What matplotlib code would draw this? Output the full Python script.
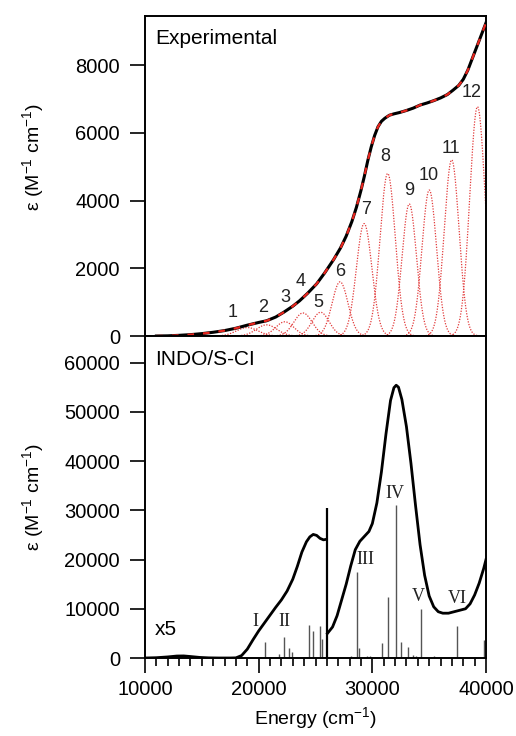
import matplotlib.pyplot as plt
import numpy as np

plt.rcParams['font.family'] = ['Liberation Sans', 'DejaVu Sans']
plt.rcParams['mathtext.fontset'] = 'custom'
plt.rcParams['mathtext.rm'] = 'Liberation Sans'
plt.rcParams['mathtext.it'] = 'Liberation Sans'

# experimental spectrum (top)
expE = [11000, 12000, 13000, 14000, 15000, 16000, 17000, 18000, 19000, 20000, 20700,
        21500, 22200, 23000, 23600, 24300, 25100, 25800, 26600, 27200, 27700, 28200,
        28600, 29000, 29300, 29600, 29900, 30200, 30500, 30800, 31100, 31500, 31900,
        32400, 33000, 33600, 34200, 34800, 35400, 36000, 36600, 37100, 37600, 38000,
        38400, 38800, 39200, 39600, 40000]
expEps = [0, 5, 20, 40, 70, 110, 160, 230, 320, 400, 450,
          560, 700, 880, 1040, 1260, 1540, 1860, 2260, 2600, 2950, 3380,
          3800, 4300, 4720, 5180, 5580, 5920, 6180, 6340, 6430, 6520, 6560,
          6600, 6660, 6730, 6820, 6880, 6950, 7030, 7130, 7260, 7400, 7580,
          7850, 8200, 8550, 8900, 9250]

# gaussian components: centre, height, sigma
bandE = [19000, 20700, 22300, 23900, 25450, 27160, 29280, 31350, 33250, 35010, 36980, 39250]
bandH = [250, 330, 420, 680, 700, 1600, 3320, 4800, 3900, 4310, 5200, 6770]
bandW = [950, 900, 800, 800, 750, 700, 680, 670, 630, 640, 650, 680]
bandLbl = ['1', '2', '3', '4', '5', '6', '7', '8', '9', '10', '11', '12']
lblE = [17750, 20350, 22350, 23650, 25250, 27150, 29450, 31150, 33250, 35000, 36950, 38700]
lblEps = [700, 850, 1150, 1600, 1000, 1900, 3750, 5300, 4300, 4750, 5550, 7200]

# INDO/S-CI calculated spectrum (bottom)
calcE1 = [10000, 11000, 12000, 12800, 13400, 14000, 14800, 15600, 16500, 17500, 18000,
          18500, 19000, 19500, 20000, 20500, 21000, 21500, 22000, 22500, 23000, 23400,
          23800, 24200, 24500, 24800, 25100, 25400, 25700, 25950]
calcEps1 = [0, 60, 220, 400, 420, 300, 120, 30, 0, 0, 30,
            500, 1800, 3700, 5500, 7100, 8700, 10300, 11800, 13600, 16000, 18600,
            21500, 23600, 24600, 25100, 24900, 24300, 24000, 24100]
calcE2 = [26050, 26500, 26900, 27300, 27700, 28100, 28500, 28900, 29300, 29700, 30000,
          30400, 30800, 31200, 31600, 31900, 32100, 32300, 32600, 33000, 33400, 33800,
          34200, 34600, 35000, 35400, 35800, 36200, 36700, 37200, 37700, 38200, 38600,
          39000, 39400, 39800, 40000]
calcEps2 = [5000, 6300, 8600, 11800, 15000, 18700, 22000, 23700, 24700, 25700, 27300,
            31500, 37800, 45500, 52300, 54900, 55400, 55000, 52500, 47000, 39500, 31000,
            23000, 16800, 12600, 10400, 9400, 9100, 9100, 9400, 9700, 10000, 11000,
            12800, 15200, 18200, 20000]

# oscillator sticks
stickE = [20580, 21760, 22230, 22700, 22930, 24400, 24750, 25400, 25540, 28100, 28650,
          28830, 29500, 29800, 30850, 31380, 32080, 32520, 33110, 33600, 33800, 34280,
          35400, 37420, 39850]
stickEps = [3150, 800, 4250, 2100, 1300, 6700, 5400, 6400, 3800, 500, 17500,
            2100, 400, 500, 3000, 12400, 31000, 3200, 2300, 700, 400, 9900,
            400, 6600, 3700]
tallE = 26000
tallEps = 30500

romanLbl = ['I', 'II', 'III', 'IV', 'V', 'VI']
romanE = [19700, 22300, 29400, 32000, 34000, 37500]
romanEps = [7500, 7500, 20000, 33500, 12500, 12000]

fig = plt.figure(figsize=(5.16, 7.36), dpi=100)
ax1 = fig.add_axes([145/516, 1 - 336/736, 341/516, 320/736])
ax2 = fig.add_axes([145/516, 1 - 658/736, 341/516, 322/736])

# top panel
grid = np.linspace(10000, 40000, 1200)
for c, h, w in zip(bandE, bandH, bandW):
    ax1.plot(grid, h * np.exp(-(grid - c)**2 / (2 * w**2)), color='#e23a3a',
             lw=0.9, ls=(0, (1, 1.2)), zorder=2)
ax1.plot(expE, expEps, color='black', lw=2.2, zorder=3)
ax1.plot(expE, expEps, color='#e8251e', lw=1.6, ls=(0, (3, 4)), zorder=4)
for t, x, y in zip(bandLbl, lblE, lblEps):
    ax1.text(x, y, t, fontsize=13, ha='center', va='center', color='#222222')
ax1.text(0.03, 0.96, 'Experimental', transform=ax1.transAxes, fontsize=15,
         ha='left', va='top')
ax1.set_xlim(10000, 40000)
ax1.set_ylim(0, 9450)
ax1.set_yticks([0, 2000, 4000, 6000, 8000])
ax1.tick_params(axis='y', direction='out', length=11, width=1.2, labelsize=14.5, pad=7)
ax1.set_xticks([])
ax1.set_ylabel('ε (M$^{-1}$ cm$^{-1}$)', fontsize=14)
ax1.yaxis.set_label_coords(-0.29, 0.56)

# bottom panel
ax2.vlines(stickE, 0, stickEps, color='#555555', lw=1.0, zorder=2)
ax2.vlines(tallE, 0, tallEps, color='black', lw=1.6, zorder=3)
ax2.plot(calcE1, calcEps1, color='black', lw=2.0, zorder=4)
ax2.plot(calcE2, calcEps2, color='black', lw=2.0, zorder=4)
for t, x, y in zip(romanLbl, romanE, romanEps):
    ax2.text(x, y, t, fontsize=13, ha='center', va='center',
             family=['Liberation Serif', 'DejaVu Serif'], color='#222222')
ax2.text(0.03, 0.955, 'INDO/S-CI', transform=ax2.transAxes, fontsize=15,
         ha='left', va='top')
ax2.text(0.03, 0.06, 'x5', transform=ax2.transAxes, fontsize=15,
         ha='left', va='bottom')
ax2.set_xlim(10000, 40000)
ax2.set_ylim(0, 65400)
ax2.set_yticks(np.arange(0, 60001, 10000))
ax2.set_xticks([10000, 20000, 30000, 40000])
ax2.set_xticks(np.arange(10000, 40001, 1000), minor=True)
ax2.tick_params(axis='y', which='major', direction='out', length=11, width=1.2,
                labelsize=14.5, pad=7)
ax2.tick_params(axis='x', which='major', direction='out', length=11, width=1.2,
                labelsize=14.5, pad=5)
ax2.tick_params(axis='x', which='minor', direction='out', length=6, width=1.2)
ax2.set_xlabel('Energy (cm$^{-1}$)', fontsize=14, labelpad=4)
ax2.set_ylabel('ε (M$^{-1}$ cm$^{-1}$)', fontsize=14)
ax2.yaxis.set_label_coords(-0.29, 0.5)

for ax in (ax1, ax2):
    for s in ax.spines.values():
        s.set_linewidth(1.4)

fig.savefig('out.png', dpi=100)
